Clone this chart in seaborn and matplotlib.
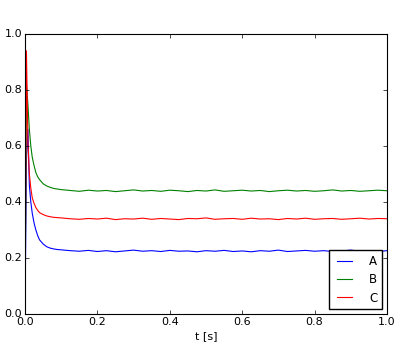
import pandas as pd
import matplotlib
matplotlib.use("Agg")
import matplotlib.pyplot as plt
import seaborn as sns

# time axis: dense at the start, then every 0.025 s
t_start = [0.0, 0.004, 0.008, 0.012, 0.016, 0.02, 0.025, 0.03, 0.035, 0.04,
           0.05, 0.06, 0.07, 0.08, 0.09, 0.1]
t_tail = [0.125, 0.15, 0.175, 0.2, 0.225, 0.25, 0.275, 0.3, 0.325, 0.35,
          0.375, 0.4, 0.425, 0.45, 0.475, 0.5, 0.525, 0.55, 0.575, 0.6,
          0.625, 0.65, 0.675, 0.7, 0.725, 0.75, 0.775, 0.8, 0.825, 0.85,
          0.875, 0.9, 0.925, 0.95, 0.975, 1.0]
t = t_start + t_tail

a_vals = [0.0, 0.55, 0.66, 0.46, 0.40, 0.36, 0.325, 0.30, 0.28, 0.265,
          0.25, 0.24, 0.235, 0.232, 0.230, 0.229,
          0.226, 0.224, 0.227, 0.223, 0.226, 0.222, 0.225, 0.228, 0.224, 0.226,
          0.223, 0.227, 0.224, 0.225, 0.222, 0.226, 0.224, 0.227, 0.223, 0.225,
          0.222, 0.226, 0.224, 0.228, 0.223, 0.225, 0.227, 0.224, 0.226, 0.223,
          0.225, 0.228, 0.224, 0.226, 0.223, 0.226]
b_vals = [0.0, 0.82, 0.75, 0.66, 0.60, 0.56, 0.53, 0.505, 0.49, 0.48,
          0.465, 0.457, 0.452, 0.448, 0.446, 0.444,
          0.441, 0.438, 0.442, 0.439, 0.441, 0.437, 0.440, 0.443, 0.439, 0.441,
          0.438, 0.442, 0.440, 0.437, 0.441, 0.439, 0.443, 0.438, 0.440, 0.442,
          0.439, 0.441, 0.437, 0.440, 0.442, 0.439, 0.441, 0.438, 0.440, 0.443,
          0.439, 0.441, 0.438, 0.440, 0.442, 0.440]
c_vals = [0.0, 0.94, 0.62, 0.50, 0.45, 0.415, 0.395, 0.38, 0.37, 0.362,
          0.355, 0.35, 0.347, 0.345, 0.344, 0.343,
          0.340, 0.338, 0.341, 0.339, 0.342, 0.337, 0.340, 0.339, 0.342, 0.338,
          0.341, 0.339, 0.337, 0.341, 0.340, 0.343, 0.338, 0.340, 0.341, 0.338,
          0.342, 0.339, 0.340, 0.337, 0.341, 0.339, 0.342, 0.338, 0.340, 0.341,
          0.338, 0.340, 0.342, 0.339, 0.341, 0.340]

labels = ["A", "B", "C"]
colors = ["b", "g", "r"]


def build_frame() -> pd.DataFrame:
    frames = []
    for name, vals in zip(labels, [a_vals, b_vals, c_vals]):
        frames.append(pd.DataFrame({"t": t, "value": vals, "series": name}))
    return pd.concat(frames, ignore_index=True)


def draw(df: pd.DataFrame):
    plt.style.use("classic")
    plt.rcParams["font.family"] = ["DejaVu Sans"]
    plt.rcParams["font.size"] = 8
    plt.rcParams["xtick.major.size"] = 3
    plt.rcParams["ytick.major.size"] = 3
    plt.rcParams["xtick.minor.size"] = 0
    plt.rcParams["ytick.minor.size"] = 0
    plt.rcParams["axes.linewidth"] = 0.8

    fig = plt.figure(figsize=(4, 3.5), dpi=100)
    fig.patch.set_facecolor("white")
    ax = fig.add_axes([0.0625, 0.103, 0.905, 0.8])

    sns.lineplot(data=df, x="t", y="value", hue="series", palette=colors,
                 estimator=None, sort=False, linewidth=0.8, ax=ax)

    ax.set_xlim(0, 1)
    ax.set_ylim(0, 1)
    ax.set_xlabel("t [s]", fontsize=8, labelpad=3)
    ax.set_ylabel("")
    ax.set_xticks([0.0, 0.2, 0.4, 0.6, 0.8, 1.0])
    ax.set_yticks([0.0, 0.2, 0.4, 0.6, 0.8, 1.0])
    ax.tick_params(labelsize=8, pad=2)

    handles, _ = ax.get_legend_handles_labels()
    ax.legend(handles, labels, loc="lower right", fontsize=8.5,
              frameon=True, fancybox=False, handlelength=1.8,
              handletextpad=1.2, borderpad=0.4, labelspacing=0.45,
              borderaxespad=0.4)

    fig.savefig("out.png", dpi=100, facecolor="white")


def main():
    df = build_frame()
    draw(df)


if __name__ == "__main__":
    main()
